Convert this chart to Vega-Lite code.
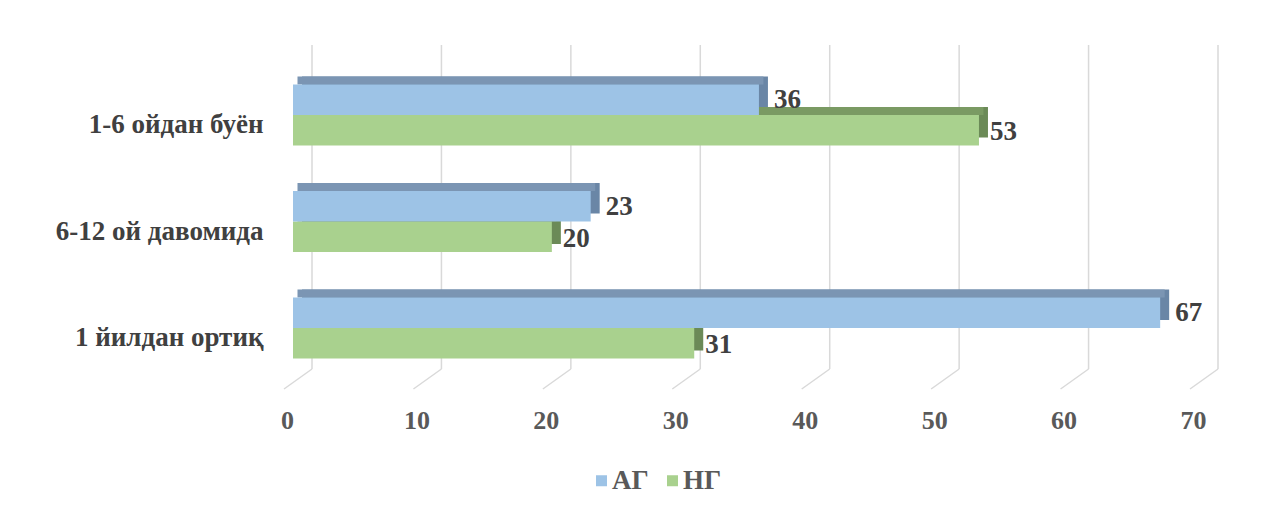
{
  "$schema": "https://vega.github.io/schema/vega-lite/v6.json",
  "autosize": "none",
  "width": 906,
  "height": 324,
  "padding": {"left": 293, "top": 45, "right": 85, "bottom": 139},
  "background": "white",
  "config": {"view": {"stroke": null}},
  "datasets": {
    "bars": [
      {"cat": "1-6 ойдан буён", "series": "АГ", "v": 36},
      {"cat": "1-6 ойдан буён", "series": "НГ", "v": 53},
      {"cat": "6-12 ой давомида", "series": "АГ", "v": 23},
      {"cat": "6-12 ой давомида", "series": "НГ", "v": 20},
      {"cat": "1 йилдан ортиқ", "series": "АГ", "v": 67},
      {"cat": "1 йилдан ортиқ", "series": "НГ", "v": 31}
    ],
    "ticks": [{"t": 0}, {"t": 10}, {"t": 20}, {"t": 30}, {"t": 40}, {"t": 50}, {"t": 60}, {"t": 70}]
  },
  "layer": [
    {
      "data": {"name": "ticks"},
      "mark": {"type": "rule", "color": "#d9d9d9", "strokeWidth": 1.5, "xOffset": 19, "x2Offset": 19},
      "encoding": {
        "x": {
          "field": "t", "type": "quantitative",
          "scale": {"domain": [0, 70], "nice": false},
          "axis": {
            "values": [0, 10, 20, 30, 40, 50, 60, 70],
            "domain": false, "ticks": false, "grid": false, "title": null,
            "labelOffset": -6, "labelPadding": 38, "labelFlush": false,
            "labelFont": "Liberation Serif", "labelFontSize": 26, "labelFontWeight": "bold", "labelColor": "#595959"
          }
        }
      }
    },
    {
      "data": {"name": "ticks"},
      "mark": {"type": "rule", "color": "#d9d9d9", "strokeWidth": 1.5, "xOffset": 19, "x2Offset": -9, "yOffset": 0, "y2Offset": 20},
      "encoding": {
        "x": {"field": "t", "type": "quantitative"},
        "x2": {"field": "t"},
        "y": {"value": "height"},
        "y2": {"value": "height"}
      }
    },
    {
      "data": {"name": "bars"},
      "transform": [{"filter": "datum.series === 'АГ'"}],
      "mark": {"type": "bar", "height": 30.5, "color": "#6a86a6", "xOffset": 9, "x2Offset": 9, "yOffset": -8.75},
      "encoding": {
        "x": {"field": "v", "type": "quantitative"},
        "y": {"field": "cat", "type": "nominal", "sort": ["1-6 ойдан буён", "6-12 ой давомида", "1 йилдан ортиқ"]}
      }
    },
    {
      "data": {"name": "bars"},
      "transform": [{"filter": "datum.series === 'АГ'"}],
      "mark": {"type": "bar", "height": 8, "color": "#7b95b3", "xOffset": 4.5, "x2Offset": 4.5, "yOffset": -20},
      "encoding": {
        "x": {"field": "v", "type": "quantitative"},
        "y": {"field": "cat", "type": "nominal", "sort": ["1-6 ойдан буён", "6-12 ой давомида", "1 йилдан ортиқ"]}
      }
    },
    {
      "data": {"name": "bars"},
      "transform": [{"filter": "datum.series === 'НГ'"}],
      "mark": {"type": "bar", "height": 30.5, "color": "#6b8a57", "xOffset": 9, "x2Offset": 9, "yOffset": 21.75},
      "encoding": {
        "x": {"field": "v", "type": "quantitative"},
        "y": {"field": "cat", "type": "nominal", "sort": ["1-6 ойдан буён", "6-12 ой давомида", "1 йилдан ортиқ"]}
      }
    },
    {
      "data": {"name": "bars"},
      "transform": [{"filter": "datum.series === 'НГ'"}],
      "mark": {"type": "bar", "height": 8, "color": "#7a9a63", "xOffset": 4.5, "x2Offset": 4.5, "yOffset": 10.5},
      "encoding": {
        "x": {"field": "v", "type": "quantitative"},
        "y": {"field": "cat", "type": "nominal", "sort": ["1-6 ойдан буён", "6-12 ой давомида", "1 йилдан ортиқ"]}
      }
    },
    {
      "data": {"name": "bars"},
      "transform": [{"filter": "datum.series === 'НГ'"}],
      "mark": {"type": "bar", "height": 30.5, "yOffset": 29.75},
      "encoding": {
        "x": {"field": "v", "type": "quantitative"},
        "y": {"field": "cat", "type": "nominal", "sort": ["1-6 ойдан буён", "6-12 ой давомида", "1 йилдан ортиқ"]},
        "color": {"field": "series", "type": "nominal"}
      }
    },
    {
      "data": {"name": "bars"},
      "transform": [{"filter": "datum.series === 'АГ'"}],
      "mark": {"type": "bar", "height": 30.5, "yOffset": -0.75},
      "encoding": {
        "x": {"field": "v", "type": "quantitative"},
        "y": {
          "field": "cat", "type": "nominal",
          "sort": ["1-6 ойдан буён", "6-12 ой давомида", "1 йилдан ортиқ"],
          "scale": {"paddingInner": 0.43, "paddingOuter": 0.236},
          "axis": {
            "domain": false, "ticks": false, "grid": false, "title": null,
            "labelOffset": 24.5, "labelPadding": 30, "labelLimit": 400,
            "labelFont": "Liberation Serif", "labelFontSize": 27, "labelFontWeight": "bold", "labelColor": "#404040"
          }
        },
        "color": {
          "field": "series", "type": "nominal",
          "scale": {"domain": ["АГ", "НГ"], "range": ["#9dc3e6", "#a9d18e"]},
          "legend": {
            "title": null, "orient": "none", "direction": "horizontal",
            "legendX": 295, "legendY": 422,
            "symbolType": "square", "symbolSize": 121, "symbolStrokeWidth": 0,
            "columnPadding": 10, "labelOffset": -3, "padding": 0,
            "labelFont": "Liberation Serif", "labelFontSize": 27, "labelFontWeight": "bold", "labelColor": "#595959"
          }
        }
      }
    },
    {
      "data": {"name": "bars"},
      "transform": [{"filter": "datum.series === 'АГ'"}],
      "mark": {"type": "text", "align": "left", "baseline": "middle", "dx": 15, "yOffset": -0.5, "font": "Liberation Serif", "fontSize": 27, "fontWeight": "bold", "color": "#404040"},
      "encoding": {
        "x": {"field": "v", "type": "quantitative"},
        "y": {"field": "cat", "type": "nominal", "sort": ["1-6 ойдан буён", "6-12 ой давомида", "1 йилдан ортиқ"]},
        "text": {"field": "v", "type": "quantitative"}
      }
    },
    {
      "data": {"name": "bars"},
      "transform": [{"filter": "datum.series === 'НГ'"}],
      "mark": {"type": "text", "align": "left", "baseline": "middle", "dx": 11, "yOffset": 31.5, "font": "Liberation Serif", "fontSize": 27, "fontWeight": "bold", "color": "#404040"},
      "encoding": {
        "x": {"field": "v", "type": "quantitative"},
        "y": {"field": "cat", "type": "nominal", "sort": ["1-6 ойдан буён", "6-12 ой давомида", "1 йилдан ортиқ"]},
        "text": {"field": "v", "type": "quantitative"}
      }
    }
  ]
}
